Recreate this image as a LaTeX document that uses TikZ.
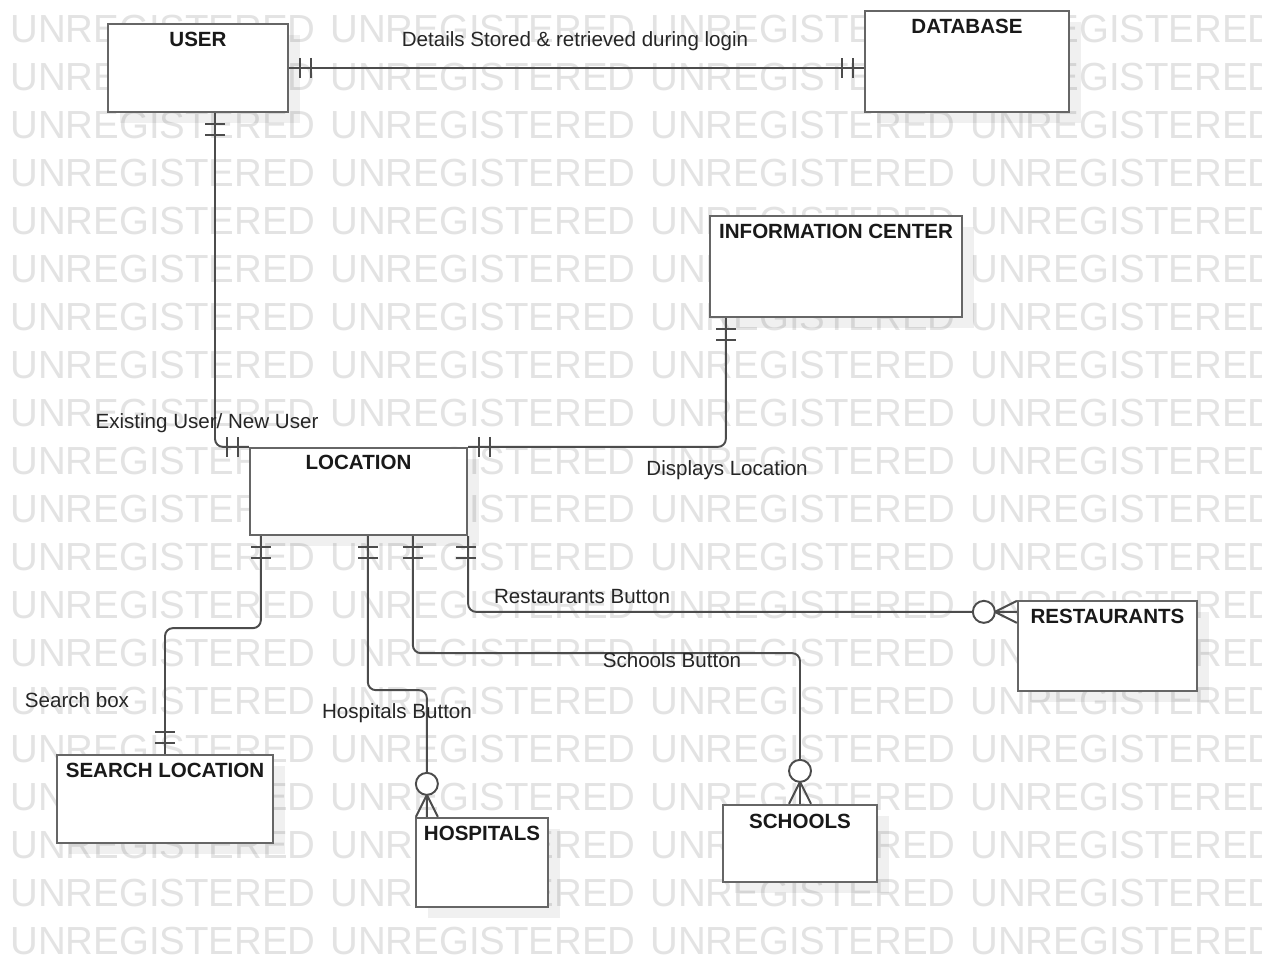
\documentclass[tikz,border=0pt]{standalone}
\usepackage{fontspec}
\setmainfont{Liberation Sans}
\usetikzlibrary{arrows.meta, positioning, calc, fit, shadows}

\begin{document}
\begin{tikzpicture}[
    x=0.2mm, y=-0.2mm,
    ent/.style={draw=black!60, line width=1.3pt, fill=white, inner sep=0pt,
        drop shadow={shadow xshift=2.4mm, shadow yshift=-2.2mm, fill=black, opacity=0.06}},
    ttl/.style={font=\fontsize{11.7}{14}\selectfont\bfseries, text=black!90, inner sep=0pt},
    lbl/.style={font=\fontsize{11.7}{14}\selectfont, text=black!85, inner sep=0pt},
    rel/.style={draw=black!70, line width=1.1pt, rounded corners=4.5pt},
    wm/.style={font=\fontsize{22.3}{26}\selectfont, text=black!11, anchor=west, inner sep=0pt},
    onebar/.pic={
        \draw[black!70, line width=1.1pt] (11,-10) -- (11,10) (22,-10) -- (22,10);
    },
    zeromany/.pic={
        \draw[black!70, line width=1.1pt] (0,-11) -- (22,0) -- (0,11);
        \draw[black!70, line width=1.1pt, fill=white] (33,0) circle[radius=11];
    },
]
\useasboundingbox (0,0) rectangle (1275,966);
\fill[white] (0,0) rectangle (1275,966);
% ============================================================
% Watermark
% ============================================================
\begin{scope}
\clip (0,0) rectangle (1261,966);
\foreach \r in {0,...,19} {
    \foreach \c in {0,...,3} {
        \node[wm] (wm-\r-\c) at (10+320*\c, 29+48*\r) {\scalebox{0.98}[1]{UNREGISTERED}};
    }
}
\end{scope}
% ============================================================
% Entities
% ============================================================
\node[ent, fit={(108,24) (288,112)}] (user) {};
\node[ent, fit={(865,11) (1069,112)}] (db) {};
\node[ent, fit={(710,216) (962,317)}] (info) {};
\node[ent, fit={(250,448) (467,535)}] (locn) {};
\node[ent, fit={(57,755) (273,843)}] (search) {};
\node[ent, fit={(416,818) (548,907)}] (hosp) {};
\node[ent, fit={(723,805) (877,882)}] (school) {};
\node[ent, fit={(1018,601) (1197,691)}] (rest) {};
% --- titles ---
\node[ttl] (userT) at ($(user.north)+(0,16.5)$) {USER};
\node[ttl] (dbT) at ($(db.north)+(0,16.5)$) {DATABASE};
\node[ttl] (infoT) at ($(info.north)+(0,16.5)$) {INFORMATION CENTER};
\node[ttl] (locnT) at ($(locn.north)+(0,15.5)$) {LOCATION};
\node[ttl] (searchT) at ($(search.north)+(0,16.5)$) {SEARCH LOCATION};
\node[ttl] (hospT) at ($(hosp.north)+(0,16.5)$) {HOSPITALS};
\node[ttl] (schoolT) at ($(school.north)+(0,17.5)$) {SCHOOLS};
\node[ttl] (restT) at ($(rest.north)+(0,16.5)$) {RESTAURANTS};
% ============================================================
% Relationships
% ============================================================
\draw[rel] (user.east) -- (user.east -| db.west);
\draw[rel] ($(user.south)+(17,0)$) |- (locn.north west);
\draw[rel] (locn.north east) -| ($(info.south west)+(17,0)$);
\draw[rel] ($(locn.south west)+(12,0)$) -- ++(0,92) -| (search.north);
\draw[rel] ($(locn.south west)+(119,0)$) -- ++(0,154) -| ($(hosp.north west)+(12,0)$);
\draw[rel] ($(locn.south west)+(164,0)$) -- ++(0,117) -| (school.north);
\draw[rel] (locn.south east) |- ($(rest.north west)+(0,12)$);
% --- cardinality marks ---
\pic at (user.east) {onebar};
\pic[rotate=180] at (user.east -| db.west) {onebar};
\pic[rotate=-90] at ($(user.south)+(17,0)$) {onebar};
\pic[rotate=180] at (locn.north west) {onebar};
\pic at (locn.north east) {onebar};
\pic[rotate=-90] at ($(info.south west)+(17,0)$) {onebar};
\foreach \dx in {12,119,164,217} {
    \pic[rotate=-90] at ($(locn.south west)+(\dx,0)$) {onebar};
}
\pic[rotate=90] at (search.north) {onebar};
\pic[rotate=90] at ($(hosp.north west)+(12,0)$) {zeromany};
\pic[rotate=90] at (school.north) {zeromany};
\pic[rotate=180] at ($(rest.north west)+(0,12)$) {zeromany};
% --- labels ---
\node[lbl] (dtl) at (575,41) {Details Stored \& retrieved during login};
\node[lbl] (exist) at (207,423) {Existing User/ New User};
\node[lbl] (disp) at (727,470) {Displays Location};
\node[lbl] (srch) at (77,700) {Search box};
\node[lbl] (hspb) at (397,713) {Hospitals Button};
\node[lbl] (schb) at (672,660) {Schools Button};
\node[lbl] (rstb) at (582,597) {Restaurants Button};
\end{tikzpicture}
\end{document}
